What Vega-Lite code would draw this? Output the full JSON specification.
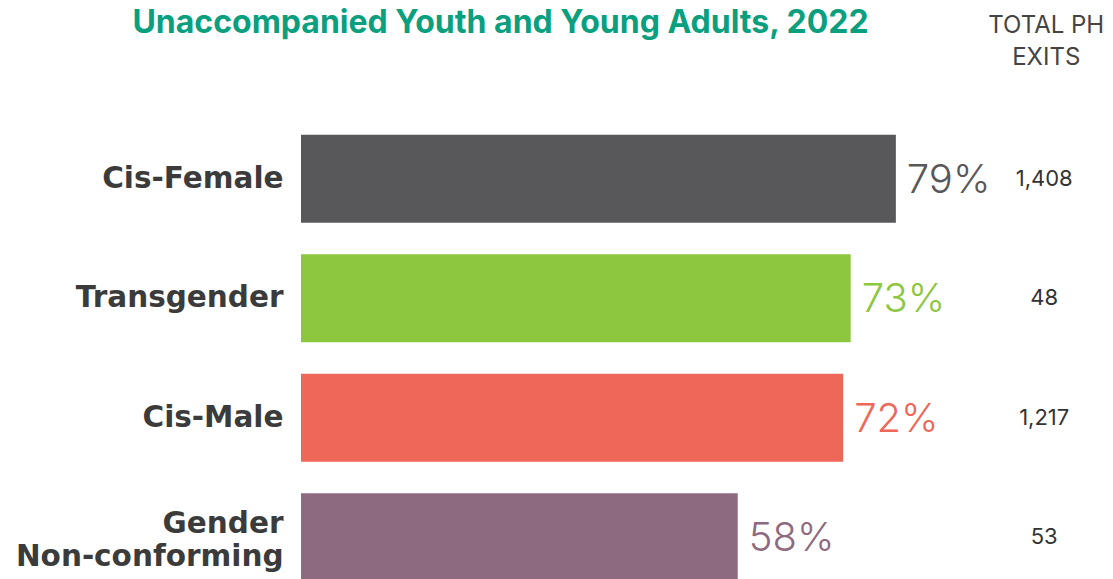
{
  "$schema": "https://vega.github.io/schema/vega-lite/v6.json",
  "autosize": "none",
  "padding": {"left": 301, "top": 119, "right": 59, "bottom": 0},
  "width": 753,
  "height": 460,
  "background": "white",
  "config": {"view": {"stroke": null}},
  "title": {
    "text": "Unaccompanied Youth and Young Adults, 2022",
    "font": "Inter",
    "fontSize": 32,
    "fontWeight": "bold",
    "color": "#0A9F7E",
    "anchor": "middle",
    "frame": "group",
    "dx": -177,
    "baseline": "alphabetic",
    "offset": -52
  },
  "data": {
    "values": [
      {"gender": "Cis-Female", "pct": 0.79, "exits": 1408},
      {"gender": "Transgender", "pct": 0.73, "exits": 48},
      {"gender": "Cis-Male", "pct": 0.72, "exits": 1217},
      {"gender": "Gender Non-conforming", "pct": 0.58, "exits": 53}
    ]
  },
  "encoding": {
    "y": {
      "field": "gender",
      "type": "nominal",
      "sort": ["Cis-Female", "Transgender", "Cis-Male", "Gender Non-conforming"],
      "scale": {"range": [0, 478], "paddingInner": 0.264, "paddingOuter": 0.132},
      "axis": {
        "title": null,
        "domain": false,
        "ticks": false,
        "labelFont": "DejaVu Sans",
        "labelFontSize": 29.5,
        "labelFontWeight": "bold",
        "labelColor": "#3b3b3b",
        "labelPadding": 18,
        "labelLimit": 300,
        "labelLineHeight": 33,
        "labelOffset": {"condition": {"test": "datum.value == 'Gender Non-conforming'", "value": -13}, "value": 0},
        "labelExpr": "split(datum.label, ' ')"
      }
    }
  },
  "layer": [
    {
      "mark": {"type": "bar", "clip": true},
      "encoding": {
        "x": {
          "field": "pct",
          "type": "quantitative",
          "scale": {"domain": [0, 1]},
          "axis": {
            "orient": "top",
            "title": null,
            "values": [0.989],
            "grid": false,
            "domain": false,
            "ticks": false,
            "labelExpr": "['TOTAL PH', 'EXITS']",
            "labelFont": "Inter",
            "labelFontSize": 24,
            "labelColor": "#444444",
            "labelLineHeight": 32,
            "labelBaseline": "bottom",
            "labelPadding": 82,
            "labelFlush": false,
            "labelOverlap": false
          }
        },
        "color": {
          "field": "gender",
          "type": "nominal",
          "scale": {
            "domain": ["Cis-Female", "Transgender", "Cis-Male", "Gender Non-conforming"],
            "range": ["#58585A", "#8DC63F", "#EF6759", "#8E6A80"]
          },
          "legend": null
        }
      }
    },
    {
      "mark": {"type": "text", "align": "left", "baseline": "middle", "dx": 11, "dy": 2, "font": "Inter", "fontSize": 40, "fontWeight": 300},
      "encoding": {
        "x": {"field": "pct", "type": "quantitative"},
        "text": {"field": "pct", "type": "quantitative", "format": ".0%"},
        "color": {"field": "gender", "type": "nominal"}
      }
    },
    {
      "mark": {"type": "text", "align": "center", "baseline": "middle", "font": "Inter", "fontSize": 22, "color": "#333333"},
      "encoding": {
        "x": {"datum": 0.987},
        "text": {"field": "exits", "type": "quantitative", "format": ","}
      }
    }
  ]
}
